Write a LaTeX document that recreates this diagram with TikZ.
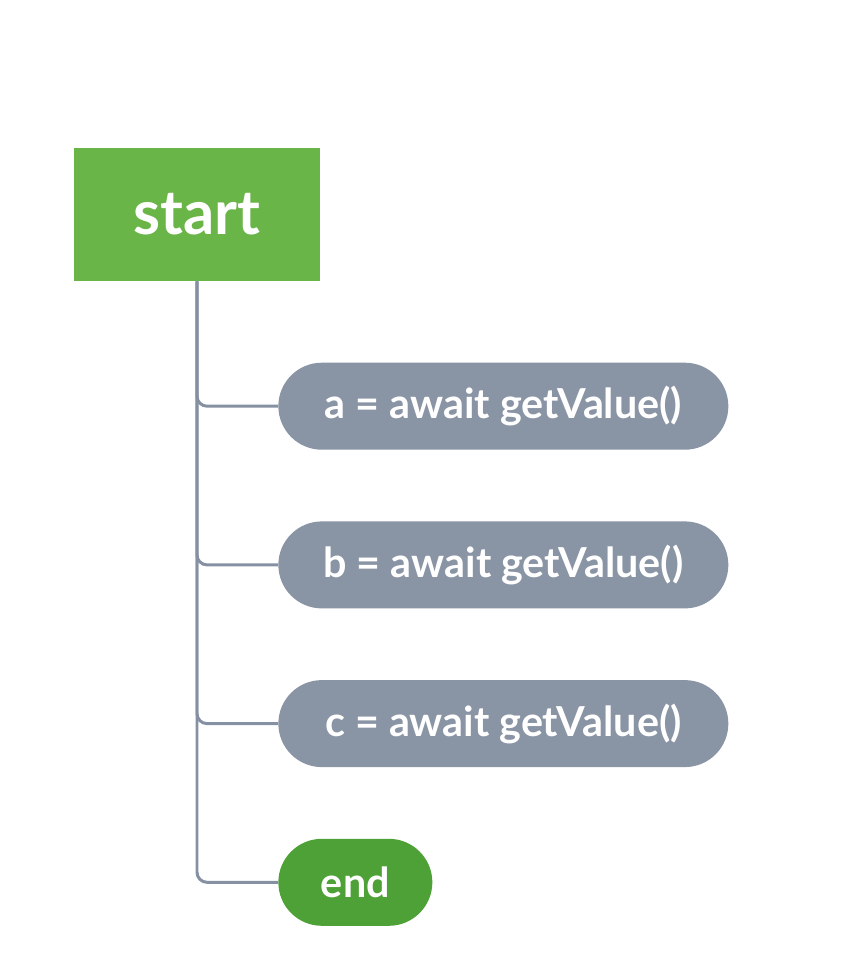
\documentclass[tikz,border=0pt]{standalone}
\usepackage{fontspec}
\setmainfont{Lato}
\usepackage{xcolor}
\usetikzlibrary{positioning}
\definecolor{startgreen}{HTML}{6AB548}
\definecolor{endgreen}{HTML}{4EA136}
\definecolor{taskgray}{HTML}{8994A5}
\definecolor{linkgray}{HTML}{8591A3}

\begin{document}
\begin{tikzpicture}[
  startbox/.style={rectangle, fill=startgreen, minimum width=4.92cm, minimum height=2.66cm,
    font=\fontsize{35}{40}\selectfont\bfseries, text=white},
  task/.style={rectangle, rounded corners=0.87cm, fill=#1, minimum height=1.74cm,
    font=\fontsize{23.5}{27}\selectfont\bfseries, text=white},
  task/.default=taskgray,
  link/.style={draw=linkgray, line width=1.7pt, rounded corners=0.2cm},
  node distance=1.42cm
]
  \useasboundingbox (0,0) rectangle (16.96,19.56);

  \node[startbox] (start) at (3.94,15.27) {start};
  \node[task, minimum width=9cm, below right=1.62cm and 1.62cm of start.south, anchor=north west] (a) {a = await getValue()};
  \node[task, minimum width=9cm, below=of a] (b) {b = await getValue()};
  \node[task, minimum width=9cm, below=of b] (c) {c = await getValue()};
  \node[task=endgreen, minimum width=3.08cm, below=of c.south west, anchor=north west] (end) {end};

  \foreach \t in {a, b, c, end} {
    \draw[link] (start.south) |- (\t.west);
  }
\end{tikzpicture}
\end{document}
